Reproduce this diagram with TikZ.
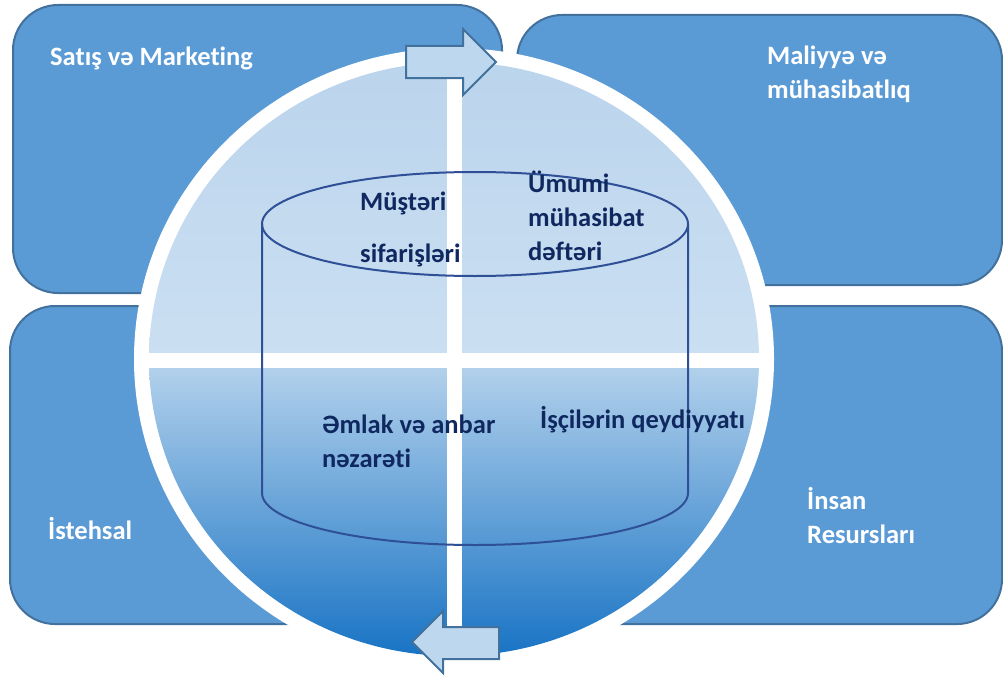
\documentclass[tikz,border=0pt]{standalone}
\usepackage{fontspec}
\setmainfont{Carlito}[Ligatures=NoCommon]
\usetikzlibrary{calc}
\definecolor{BoxClr}{RGB}{91,155,213}
\definecolor{BoxLine}{RGB}{65,113,156}
\definecolor{UpClrA}{RGB}{186,212,236}
\definecolor{UpClrB}{RGB}{203,223,242}
\definecolor{LowClrA}{RGB}{182,211,236}
\definecolor{LowClrB}{RGB}{22,114,196}
\definecolor{CylClr}{RGB}{47,80,150}
\definecolor{TxtClr}{RGB}{16,40,96}
\definecolor{ArrClr}{RGB}{189,215,238}

\begin{document}
\begin{tikzpicture}[x=1pt,y=-1pt,
  unitbox/.style={fill=BoxClr,draw=BoxLine,line width=2pt,rounded corners=45pt},
  unitlabel/.style={text=white,font=\bfseries\fontsize{26.5}{34}\selectfont,
    align=left,inner sep=0pt,anchor=base west},
  dblabel/.style={unitlabel,text=TxtClr},
  flowarrow/.style={fill=ArrClr,draw=BoxLine,line width=2pt,line join=miter}]
\useasboundingbox (0,0) rectangle (1003,677);

\coordinate (ctr) at (454,359);

% four departments
\draw[unitbox] (13,5) rectangle (502,293);
\draw[unitbox] (517,15) rectangle (1002,285);
\draw[unitbox] (10,306) rectangle (450,624);
\draw[unitbox] (460,306) rectangle (1002,624);

% the circle
\fill[white] (ctr) ellipse [x radius=320, y radius=311];
\begin{scope}
\clip (ctr) ellipse [x radius=305, y radius=297];
\shade[top color=UpClrA,bottom color=UpClrB] (140,50) rectangle (770,360);
\shade[top color=LowClrA,bottom color=LowClrB] (140,360) rectangle (770,660);
\end{scope}
\draw[white,line width=15pt] ($(ctr)+(-310,1)$) -- ($(ctr)+(310,1)$);
\draw[white,line width=15pt] ($(ctr)+(0,-300)$) -- ($(ctr)+(0,300)$);

% the database
\draw[CylClr,line width=2pt] (475,224) ellipse [x radius=213, y radius=52];
\draw[CylClr,line width=2pt] (262,224) -- (262,493)
  arc[start angle=180, end angle=0, x radius=213, y radius=52] -- (688,224);

% labels (base = last line)
\node[unitlabel] (sales) at (50,65) {Satış və Marketing};
\node[unitlabel] (fin) at (767,98) {Maliyyə və\\mühasibatlıq};
\node[unitlabel] (prod) at (48,539) {İstehsal};
\node[unitlabel] (hr) at (807,543) {İnsan\\Resursları};

\node[dblabel] (orders) at (360,210) {Müştəri};
\node[dblabel] (orders2) at (360,262) {sifarişləri};
\node[dblabel] (ledger) at (528,260) {Ümumi\\mühasibat\\dəftəri};
\node[dblabel] (stock) at (322,467) {Əmlak və anbar\\nəzarəti};
\node[dblabel] (staff) at (540,428) {İşçilərin qeydiyyatı};

% arrows
\draw[flowarrow] (406,46) -- (463,46) -- (463,29) -- (496,62) -- (463,95)
  -- (463,78) -- (406,78) -- cycle;
\draw[flowarrow] (499,627) -- (443,627) -- (443,611) -- (412,642) -- (443,673)
  -- (443,659) -- (499,659) -- cycle;
\end{tikzpicture}
\end{document}
